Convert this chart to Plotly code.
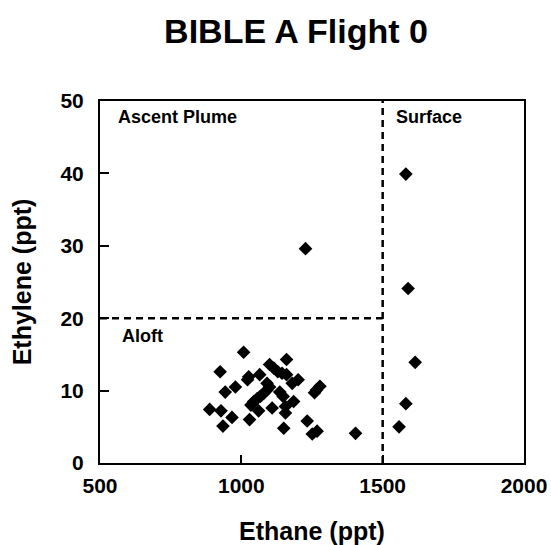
import plotly.graph_objects as go

ethane = [1008, 925, 1160, 1100, 1115, 1129, 1144, 1160, 1026, 1022, 1065, 943, 979,
          1201, 1180, 1278, 1266, 1259, 1091, 1100, 1091, 1079, 1067, 1056, 1044, 1034,
          1136, 1148, 1185, 1156, 1156, 1109, 1061, 888, 928, 967, 1029, 935, 1233,
          1150, 1251, 1268, 1404, 1227,
          1582, 1590, 1615, 1582, 1558]
ethylene = [15.3, 12.6, 14.3, 13.6, 13.1, 12.6, 12.4, 12.2, 11.9, 11.5, 12.2, 9.8, 10.5,
            11.5, 11.0, 10.6, 10.1, 9.7, 11.0, 10.5, 10.1, 9.6, 9.2, 8.9, 8.5, 8.0,
            9.8, 9.2, 8.5, 7.8, 6.9, 7.6, 7.2, 7.4, 7.2, 6.3, 6.0, 5.1, 5.8,
            4.8, 4.0, 4.4, 4.1, 29.6,
            39.9, 24.1, 13.9, 8.2, 5.0]

x_ticks = [500, 1000, 1500, 2000]
y_ticks = [0, 10, 20, 30, 40, 50]
region_labels = ["Ascent Plume", "Surface", "Aloft"]

font = "Liberation Sans, Arial, sans-serif"

fig = go.Figure()
fig.add_trace(go.Scatter(x=ethane, y=ethylene, mode="markers",
                         marker=dict(symbol="diamond", size=10.5, color="black"),
                         showlegend=False))

fig.add_shape(type="line", x0=1500, x1=1500, y0=0, y1=50,
              line=dict(color="black", width=2.5, dash="7px,5px"))
fig.add_shape(type="line", x0=500, x1=1500, y0=20, y1=20,
              line=dict(color="black", width=2.5, dash="7px,5px"))

ann_pos = [(558, 47.8), (1539, 47.8), (571, 17.6)]
for label, (ax, ay) in zip(region_labels, ann_pos):
    fig.add_annotation(x=ax, y=ay, text=f"<b>{label}</b>", showarrow=False,
                       xanchor="left", yanchor="middle",
                       font=dict(size=18, family=font, color="black"))

fig.update_layout(
    width=551, height=545,
    margin=dict(l=100, r=27, t=101, b=82),
    plot_bgcolor="white", paper_bgcolor="white",
    title=dict(text="<b>BIBLE A Flight 0</b>", x=296 / 551, xanchor="center",
               y=1 - 31 / 545, yanchor="middle",
               font=dict(size=34, family=font, color="black")),
    font=dict(family=font, color="black"),
)
fig.update_xaxes(range=[500, 2000], tickvals=x_ticks, ticktext=[f"<b>{v}</b>" for v in x_ticks],
                 showgrid=False, zeroline=False, showline=True, linecolor="black", linewidth=2,
                 mirror=True, ticks="inside", ticklen=8, tickwidth=2, tickcolor="black",
                 automargin=False, ticklabelstandoff=3,
                 tickfont=dict(size=21, family=font, color="black"),
                 title=dict(text="<b>Ethane (ppt)</b>", font=dict(size=25, family=font, color="black"),
                            standoff=27))
fig.update_yaxes(range=[0, 50], tickvals=y_ticks, ticktext=[f"<b>{v}</b>" for v in y_ticks],
                 showgrid=False, zeroline=False, showline=True, linecolor="black", linewidth=2,
                 mirror=True, ticks="inside", ticklen=9, tickwidth=2, tickcolor="black",
                 automargin=False, ticklabelstandoff=10,
                 tickfont=dict(size=21, family=font, color="black"),
                 title=dict(text="<b>Ethylene (ppt)</b>", font=dict(size=25, family=font, color="black"),
                            standoff=22))

fig.write_html("out.html", config={"displayModeBar": False},
               post_script="document.body.style.margin='0';document.body.style.overflow='hidden';")
